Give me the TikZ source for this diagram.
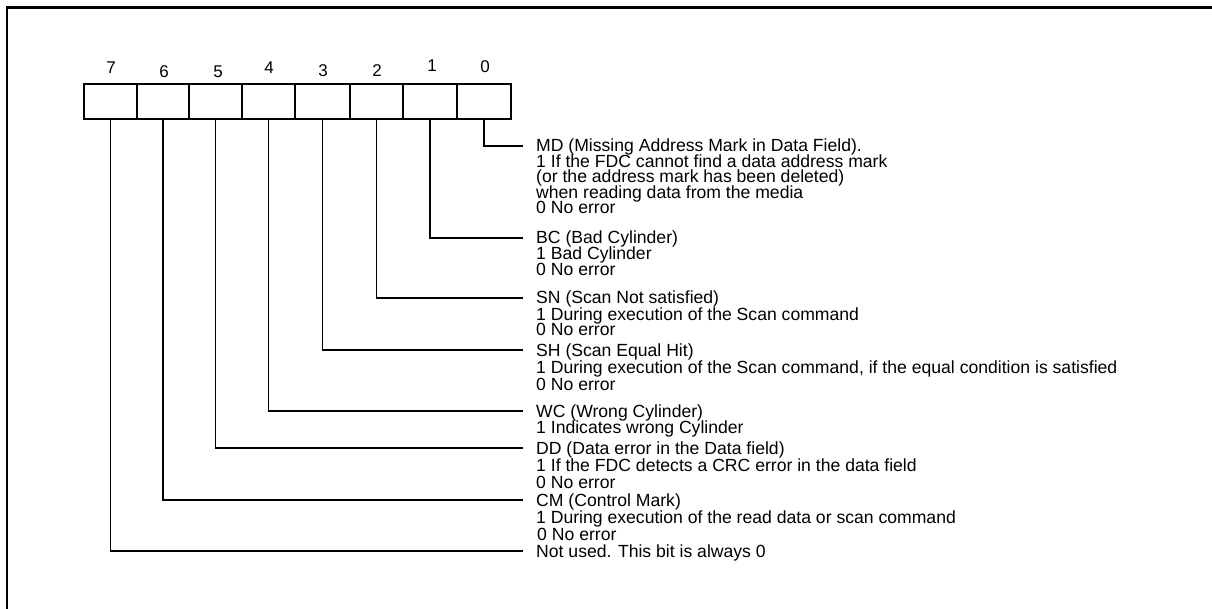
\documentclass[tikz,border=0pt]{standalone}
\usepackage{fontspec}
\setmainfont{Liberation Sans}
\begin{document}
\begin{tikzpicture}[x=1pt,y=-1pt,
  cell/.style={draw,line width=1.8pt,minimum height=35pt,inner sep=0pt,outer sep=0pt},
  bitnum/.style={inner sep=0pt,font=\fontsize{17}{18}\selectfont},
  txt/.style={anchor=base west,inner sep=0pt,font=\fontsize{17.6}{18}\selectfont},
  conn/.style={line width=1.8pt}]
\useasboundingbox (0,0) rectangle (1212,609);
% frame
\draw[line width=2.4pt] (7,625) -- (7,7.5) -- (1230,7.5);
% cells
\foreach \b/\l/\r in {7/84/137,6/137/189,5/189/242,4/242/295,3/295/350,2/350/403,1/403/457,0/457/511}
  \node[cell,minimum width={(\r-\l)*1pt}] (b\b) at ({(\l+\r)/2},101.5) {};
% bit numbers
\node[bitnum] (n7) at (111,68) {7};
\node[bitnum] (n6) at (164,72) {6};
\node[bitnum] (n5) at (218,72) {5};
\node[bitnum] (n4) at (269,68) {4};
\node[bitnum] (n3) at (323,70.5) {3};
\node[bitnum] (n2) at (377,71) {2};
\node[bitnum] (n1) at (432,66) {1};
\node[bitnum] (n0) at (485,67) {0};
% texts
\node[txt] (md) at (536,152) {MD (Missing Address Mark in Data Field).};
\node[txt] (md1) at (536,167.5) {1 If the FDC cannot find a data address mark};
\node[txt] (md2) at (536,183) {(or the address mark has been deleted)};
\node[txt] (md3) at (536,198.5) {when reading data from the media};
\node[txt] (md4) at (536,214) {0 No error};
\node[txt] (bc) at (536,244) {BC (Bad Cylinder)};
\node[txt] (bc1) at (536,260) {1 Bad Cylinder};
\node[txt] (bc2) at (536,276) {0 No error};
\node[txt] (sn) at (536,304) {SN (Scan Not satisfied)};
\node[txt] (sn1) at (536,320) {1 During execution of the Scan command};
\node[txt] (sn2) at (536,336) {0 No error};
\node[txt] (sh) at (536,356) {SH (Scan Equal Hit)};
\node[txt] (sh1) at (536,373) {1 During execution of the Scan command, if the equal condition is satisfied};
\node[txt] (sh2) at (536,390) {0 No error};
\node[txt] (wc) at (536,417) {WC (Wrong Cylinder)};
\node[txt] (wc1) at (536,433) {1 Indicates wrong Cylinder};
\node[txt] (dd) at (536,454) {DD (Data error in the Data field)};
\node[txt] (dd1) at (536,471) {1 If the FDC detects a CRC error in the data field};
\node[txt] (dd2) at (536,488) {0 No error};
\node[txt] (cm) at (536,506) {CM (Control Mark)};
\node[txt] (cm1) at (536,523) {1 During execution of the read data or scan command};
\node[txt] (cm2) at (537,540) {0 No error};
\node[txt] (nu) at (536,557) {Not used. This bit is always 0};
% connector ends
\foreach \t/\b in {md/0,bc/1,sn/2,sh/3,wc/4,dd/5,cm/6,nu/7}{
  \coordinate (e\b) at ([xshift=-13pt,yshift=6pt]\t.base west);
  \draw[conn] (b\b.south) |- (e\b);
}
\end{tikzpicture}
\end{document}
